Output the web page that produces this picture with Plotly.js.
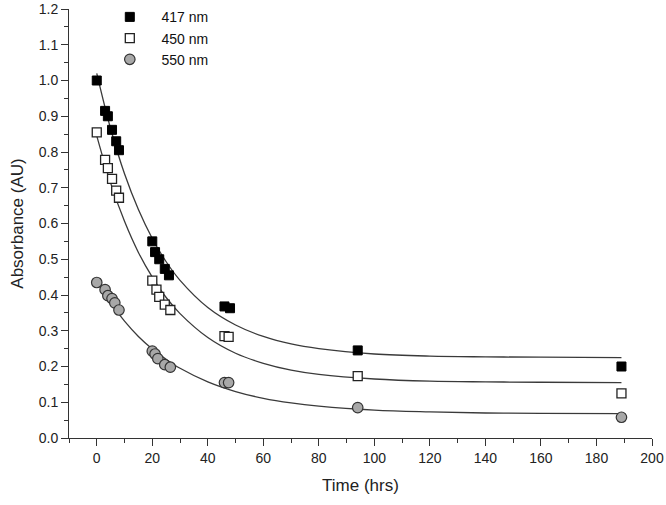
<!DOCTYPE html>
<html><head><meta charset="utf-8">
<script src="https://cdn.plot.ly/plotly-3.0.1.min.js"></script>
<style>body{margin:0;padding:0;background:#fff}#chart{width:666px;height:505px}</style>
</head><body><div id="chart"></div>
<script>
// Measured data
const time417 = [0, 3, 4, 5.5, 7, 8, 20, 21, 22.5, 24.5, 26, 46, 48, 94, 189];
const abs417 = [1.0, 0.915, 0.9, 0.862, 0.83, 0.805, 0.55, 0.52, 0.5, 0.473, 0.455, 0.368, 0.363, 0.245, 0.2];
const time450 = [0, 3, 4, 5.5, 7, 8, 20, 21.5, 22.5, 24.5, 26.5, 46, 47.5, 94, 189];
const abs450 = [0.855, 0.778, 0.755, 0.725, 0.692, 0.672, 0.44, 0.415, 0.395, 0.373, 0.358, 0.285, 0.283, 0.173, 0.125];
const time550 = [0, 3, 4, 5.5, 6.5, 8, 20, 21, 22, 24.5, 26.5, 46, 47.5, 94, 189];
const abs550 = [0.435, 0.415, 0.398, 0.39, 0.378, 0.358, 0.243, 0.235, 0.222, 0.205, 0.198, 0.155, 0.155, 0.085, 0.058];

// Fit curves
const fitTime = [0, 5, 10, 15, 20, 25, 30, 40, 50, 60, 70, 80, 100, 120, 140, 160, 189];
const fit417 = [1.02, 0.865, 0.739, 0.639, 0.558, 0.493, 0.441, 0.365, 0.316, 0.284, 0.263, 0.250, 0.235, 0.229, 0.227, 0.226, 0.225];
const fit450 = [0.845, 0.713, 0.606, 0.519, 0.450, 0.393, 0.348, 0.281, 0.237, 0.209, 0.190, 0.178, 0.165, 0.159, 0.157, 0.156, 0.155];
const fit550 = [0.438, 0.377, 0.327, 0.284, 0.249, 0.220, 0.195, 0.157, 0.130, 0.111, 0.098, 0.089, 0.078, 0.073, 0.070, 0.069, 0.068];

const names = ['417 nm', '450 nm', '550 nm'];
const xTicks = [0, 20, 40, 60, 80, 100, 120, 140, 160, 180, 200];
const yTicks = [0.0, 0.1, 0.2, 0.3, 0.4, 0.5, 0.6, 0.7, 0.8, 0.9, 1.0, 1.1, 1.2];

const lineStyle = {color: '#3a3a3a', width: 1.3, shape: 'spline', smoothing: 1};
const pad = '\u00a0\u00a0\u00a0';
const traces = [
  {x: fitTime, y: fit417, mode: 'lines', line: lineStyle, showlegend: false, hoverinfo: 'skip'},
  {x: fitTime, y: fit450, mode: 'lines', line: lineStyle, showlegend: false, hoverinfo: 'skip'},
  {x: fitTime, y: fit550, mode: 'lines', line: lineStyle, showlegend: false, hoverinfo: 'skip'},
  {x: time417, y: abs417, mode: 'markers', name: pad + names[0],
   marker: {symbol: 'square', size: 9, color: '#000', line: {color: '#000', width: 1}}},
  {x: time450, y: abs450, mode: 'markers', name: pad + names[1],
   marker: {symbol: 'square', size: 9, color: '#fff', line: {color: '#222', width: 1.3}}},
  {x: time550, y: abs550, mode: 'markers', name: pad + names[2],
   marker: {symbol: 'circle', size: 10.5, color: '#a8a8a8', line: {color: '#333', width: 1.2}}}
];

const FAM = 'Liberation Sans, Arial, sans-serif';
const axisFont = {family: FAM, size: 14, color: '#222'};
const layout = {
  width: 666, height: 505,
  margin: {l: 69, r: 14, t: 9, b: 67, autoexpand: false},
  paper_bgcolor: '#fff', plot_bgcolor: '#fff',
  font: axisFont,
  showlegend: true,
  legend: {x: 0.07, y: 1.018, xanchor: 'left', yanchor: 'top', bgcolor: 'rgba(0,0,0,0)',
           font: {family: FAM, size: 14, color: '#111'},
           tracegroupgap: 0, itemsizing: 'trace'},
  xaxis: {
    range: [-10, 200], tickvals: xTicks, ticktext: xTicks.map(String),
    showgrid: false, zeroline: false, showline: true, linecolor: '#333', linewidth: 1,
    ticks: 'outside', ticklen: 7, tickwidth: 1, tickcolor: '#333',
    minor: {dtick: 10, tick0: 0, ticks: 'outside', ticklen: 4, tickcolor: '#333', showgrid: false},
    tickfont: axisFont, automargin: false,
    title: {text: 'Time (hrs)', font: {family: FAM, size: 17, color: '#222'}, standoff: 14}
  },
  yaxis: {
    range: [0, 1.2], tickvals: yTicks, ticktext: yTicks.map(v => v.toFixed(1)),
    showgrid: false, zeroline: false, showline: true, linecolor: '#333', linewidth: 1,
    ticks: 'outside', ticklen: 7, tickwidth: 1, tickcolor: '#333',
    minor: {dtick: 0.05, tick0: 0, ticks: 'outside', ticklen: 4, tickcolor: '#333', showgrid: false},
    tickfont: axisFont, automargin: false,
    title: {text: 'Absorbance (AU)', font: {family: FAM, size: 17, color: '#222'}, standoff: 10}
  }
};
Plotly.newPlot('chart', traces, layout, {displayModeBar: false, staticPlot: true});
</script></body></html>
